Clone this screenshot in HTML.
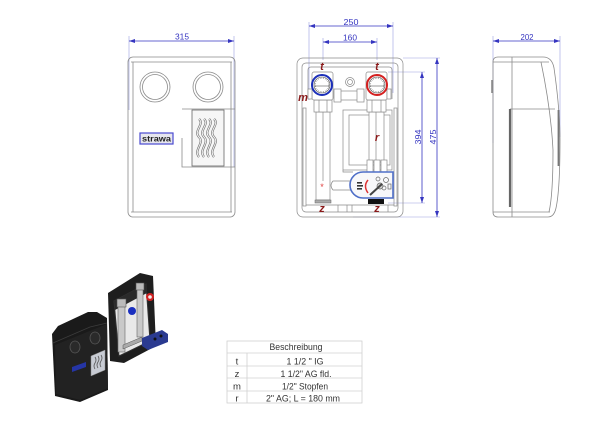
<!DOCTYPE html>
<html><head><meta charset="utf-8"><style>
html,body{margin:0;padding:0;background:#fff;}
svg{display:block;}
</style></head><body>
<svg width="600" height="425" viewBox="0 0 600 425" xmlns="http://www.w3.org/2000/svg" font-family="Liberation Sans, sans-serif">
<defs>
<marker id="a" viewBox="0 0 6 4" refX="6" refY="2" markerWidth="6" markerHeight="4" orient="auto-start-reverse" markerUnits="userSpaceOnUse"><path d="M0,0 L6,2 L0,4 z" fill="#3535c0"/></marker>
</defs>

<!-- ================= FRONT VIEW ================= -->
<g fill="none" stroke="#9aa0e0" stroke-width="0.6">
<line x1="129" y1="36" x2="129" y2="110"/>
<line x1="234" y1="36" x2="234" y2="167"/>
</g>
<line x1="129" y1="41" x2="234" y2="41" stroke="#3535c0" stroke-width="0.8" marker-start="url(#a)" marker-end="url(#a)"/>
<text x="182" y="39.5" font-size="8" fill="#3535c0" text-anchor="middle" textLength="14" lengthAdjust="spacingAndGlyphs">315</text>

<g fill="none" stroke="#8a8a8a" stroke-width="0.8">
<rect x="128" y="57" width="107" height="160" rx="5"/>
<line x1="131" y1="62" x2="232" y2="62"/>
<line x1="131" y1="212" x2="232" y2="212"/>
<line x1="133" y1="62" x2="133" y2="212"/>
<line x1="231" y1="62" x2="231" y2="212"/>
<circle cx="155" cy="87" r="15"/><circle cx="155" cy="87" r="12.5"/>
<circle cx="208" cy="87" r="15"/><circle cx="208" cy="87" r="12.5"/>
<polyline points="235,109 182,109"/>
<polyline points="182,138 182,167 235,167"/>
<rect x="192" y="110" width="32" height="56" stroke="#666" fill="#f6f6f6"/>
</g>
<g fill="none" stroke="#777" stroke-width="2.2">
<path d="M199,119 c6,5 -6,12 0,18 c6,6 -6,13 0,20"/>
<path d="M204,119 c6,5 -6,12 0,18 c6,6 -6,13 0,20"/>
<path d="M209,119 c6,5 -6,12 0,18 c6,6 -6,13 0,20"/>
<path d="M214,119 c6,5 -6,12 0,18 c6,6 -6,13 0,20"/>
</g>
<g fill="none" stroke="#f6f6f6" stroke-width="0.9">
<path d="M199,119 c6,5 -6,12 0,18 c6,6 -6,13 0,20"/>
<path d="M204,119 c6,5 -6,12 0,18 c6,6 -6,13 0,20"/>
<path d="M209,119 c6,5 -6,12 0,18 c6,6 -6,13 0,20"/>
<path d="M214,119 c6,5 -6,12 0,18 c6,6 -6,13 0,20"/>
</g>
<rect x="140" y="133" width="33" height="11" fill="#e6e6ee" stroke="#4a4ad0" stroke-width="1.2"/>
<text x="156.5" y="141.6" font-size="8" font-weight="bold" text-anchor="middle" fill="#222" textLength="29" lengthAdjust="spacingAndGlyphs">strawa</text>

<!-- ================= MIDDLE VIEW ================= -->
<g fill="none" stroke="#9aa0e0" stroke-width="0.6">
<line x1="309" y1="22" x2="309" y2="100"/>
<line x1="393" y1="22" x2="393" y2="93"/>
<line x1="323" y1="38" x2="323" y2="60"/>
<line x1="377" y1="38" x2="377" y2="60"/>
<line x1="403" y1="58" x2="440" y2="58"/>
<line x1="353" y1="217" x2="440" y2="217"/>
<line x1="388" y1="72" x2="425" y2="72"/>
<line x1="388" y1="203" x2="425" y2="203"/>
</g>
<g stroke="#3535c0" stroke-width="0.8">
<line x1="309" y1="26" x2="393" y2="26" marker-start="url(#a)" marker-end="url(#a)"/>
<line x1="323" y1="42" x2="377" y2="42" marker-start="url(#a)" marker-end="url(#a)"/>
<line x1="437" y1="58" x2="437" y2="217" marker-start="url(#a)" marker-end="url(#a)"/>
<line x1="422" y1="72" x2="422" y2="203" marker-start="url(#a)" marker-end="url(#a)"/>
</g>
<g font-size="8" fill="#3535c0" text-anchor="middle">
<text x="351" y="25" textLength="15" lengthAdjust="spacingAndGlyphs">250</text>
<text x="350" y="40.5" textLength="14" lengthAdjust="spacingAndGlyphs">160</text>
<text transform="translate(436,137) rotate(-90)" textLength="15" lengthAdjust="spacingAndGlyphs">475</text>
<text transform="translate(421,137) rotate(-90)" textLength="15" lengthAdjust="spacingAndGlyphs">394</text>
</g>

<g fill="none" stroke="#8a8a8a" stroke-width="0.7">
<rect x="297" y="58" width="106" height="159" rx="6"/>
<rect x="302" y="63" width="96" height="149" rx="4"/>
<rect x="303" y="108" width="3" height="98"/>
<rect x="394" y="108" width="3" height="98"/>
<path d="M308,99 L308,70 Q308,67 311,67 L389,67 Q392,67 392,70 L392,99"/>
<!-- r box -->
<rect x="343" y="110" width="49" height="60"/>
<rect x="349" y="115" width="41" height="50"/>
<polyline points="343,170 343,172 353,172"/>
<!-- bottom details -->
<line x1="306" y1="205" x2="394" y2="205"/>
<line x1="338" y1="205" x2="338" y2="212"/>
<line x1="347" y1="205" x2="347" y2="212"/>
<line x1="352" y1="205" x2="352" y2="212"/>
<line x1="388" y1="205" x2="388" y2="212"/>
</g>
<g fill="#fff" stroke="#8a8a8a" stroke-width="0.7">
<!-- left pipe -->
<rect x="316" y="112" width="14" height="88"/>
<line x1="323" y1="112" x2="323" y2="181"/>
<!-- right pipe -->
<rect x="369" y="112" width="15" height="50"/>
<line x1="376" y1="112" x2="376" y2="160"/>
<!-- nuts -->
<rect x="314" y="100" width="18" height="12"/>
<line x1="319" y1="100" x2="319" y2="112"/><line x1="327" y1="100" x2="327" y2="112"/>
<rect x="367" y="100" width="19" height="12"/>
<line x1="372" y1="100" x2="372" y2="112"/><line x1="381" y1="100" x2="381" y2="112"/>
<!-- gauge housings -->
<rect x="312" y="72" width="21" height="28" rx="2"/>
<rect x="366" y="72" width="21" height="28" rx="2"/>
<!-- plugs -->
<rect x="308" y="89" width="4" height="10"/>
<rect x="387" y="89" width="4" height="10"/>
<!-- middle valve -->
<rect x="334" y="91" width="30" height="9"/>
<rect x="334" y="89" width="7" height="13"/>
<rect x="357" y="89" width="7" height="13"/>
<circle cx="350" cy="82" r="4.5"/>
<circle cx="350" cy="82" r="2.5"/>
<!-- pump connectors -->
<rect x="367" y="160" width="6" height="12"/>
<rect x="374" y="160" width="6" height="12"/>
<rect x="381" y="160" width="6" height="12"/>
<!-- horizontal pipe -->
<path d="M354,181 L333,181 Q329,185.5 333,190 L354,190"/>
</g>
<!-- gauges -->
<circle cx="322" cy="85" r="10" fill="#fff" stroke="#1c2fb8" stroke-width="2"/>
<circle cx="377" cy="85" r="10" fill="#fff" stroke="#d42020" stroke-width="2"/>
<g fill="none" stroke="#555" stroke-width="1.2" stroke-dasharray="0.5 1.3">
<circle cx="322" cy="85" r="7"/><circle cx="377" cy="85" r="7"/>
</g>
<g stroke="#555" stroke-width="0.6">
<circle cx="322" cy="85" r="8" fill="none"/><circle cx="377" cy="85" r="8" fill="none"/>
<line x1="315" y1="86" x2="329" y2="86"/><line x1="370" y1="86" x2="384" y2="86"/>
</g>
<!-- pump head -->
<path d="M363,172 L393,172 L393,198 L363,198 A13,13 0 0 1 363,172 Z" fill="#f8f8fa" stroke="#4f6fc8" stroke-width="1.6"/>
<g fill="none" stroke="#666" stroke-width="0.7">
<circle cx="378" cy="179" r="2"/>
<circle cx="386" cy="180" r="2.5"/>
<circle cx="384" cy="188" r="2"/>
<rect x="388" y="184" width="3" height="5"/>
<circle cx="380" cy="186" r="3" fill="#ccc"/>
</g>
<line x1="370" y1="195" x2="382" y2="184" stroke="#444" stroke-width="2"/>
<path d="M368,180 Q363,186 368,193" fill="none" stroke="#dd3333" stroke-width="1.5"/>
<rect x="357" y="182" width="5" height="1.6" fill="#333"/>
<rect x="357" y="185" width="6" height="1.6" fill="#333"/>
<rect x="357" y="188" width="5" height="1.6" fill="#333"/>
<rect x="368" y="199" width="16" height="5" fill="#111"/>
<rect x="315" y="200" width="16" height="3" fill="#aaa" stroke="#666" stroke-width="0.5"/>
<text x="322" y="190" font-size="9" fill="#e04040" text-anchor="middle">*</text>

<!-- labels -->
<g fill="#8b1a1a" font-weight="bold" font-style="italic" font-size="11" text-anchor="middle">
<text x="322" y="70">t</text>
<text x="377" y="70">t</text>
<text x="303" y="101">m</text>
<text x="377" y="141">r</text>
<text x="322" y="212">z</text>
<text x="377" y="212">z</text>
</g>

<!-- ================= SIDE VIEW ================= -->
<g fill="none" stroke="#9aa0e0" stroke-width="0.6">
<line x1="493" y1="36" x2="493" y2="143"/>
<line x1="560" y1="36" x2="560" y2="137"/>
</g>
<line x1="493" y1="41" x2="560" y2="41" stroke="#3535c0" stroke-width="0.8" marker-start="url(#a)" marker-end="url(#a)"/>
<text x="527" y="40" font-size="8" fill="#3535c0" text-anchor="middle" textLength="13" lengthAdjust="spacingAndGlyphs">202</text>
<g fill="none" stroke="#8a8a8a" stroke-width="0.8">
<path d="M498,57 L543,57 Q552,57 554,68 Q560,110 560,140 Q560,190 556,208 Q554,217 548,217 L498,217 Q493,217 493,212 L493,62 Q493,57 498,57 Z"/>
<path d="M541,62 Q551,110 553,150 Q553,195 549,212"/>
<line x1="512" y1="57" x2="512" y2="217"/>
<line x1="493" y1="62" x2="549" y2="62"/>
<line x1="493" y1="212" x2="550" y2="212"/>
<line x1="510" y1="109" x2="555" y2="109"/>
</g>
<line x1="510" y1="109" x2="510" y2="207" stroke="#666" stroke-width="2.2"/>
<line x1="558.5" y1="110" x2="558.5" y2="166" stroke="#777" stroke-width="1.8"/>
<line x1="492" y1="80" x2="492" y2="93" stroke="#888" stroke-width="1.6"/>

<!-- ================= 3D IMAGE ================= -->
<!-- back frame -->
<polygon points="108,293 140,273 153,276 156,346 124,363 110,361" fill="#1e1e1e"/>
<polygon points="114,301 146,284 150,341 119,356" fill="#e9e9e9" stroke="#333" stroke-width="1"/>
<polygon points="114,301 146,284 147,293 115,310" fill="#2a2a2a"/>
<rect x="118" y="306" width="7" height="46" fill="#c9c9c9" stroke="#666" stroke-width="0.6"/>
<rect x="137" y="289" width="6" height="48" fill="#c9c9c9" stroke="#666" stroke-width="0.6"/>
<rect x="117" y="299" width="9" height="8" fill="#bbb" stroke="#555" stroke-width="0.6"/>
<rect x="136" y="283" width="8" height="7" fill="#bbb" stroke="#555" stroke-width="0.6"/>
<circle cx="132" cy="311" r="4" fill="#1a2fbf"/>
<circle cx="150" cy="297" r="4" fill="#d02020"/>
<circle cx="150" cy="297" r="1.8" fill="#eee"/>
<polygon points="123,345 142,337 142,341 123,349" fill="#aaa" stroke="#555" stroke-width="0.5"/>
<polygon points="142,338 162,330 168,334 168,342 148,350 142,346" fill="#2a3a90"/>
<circle cx="155" cy="339" r="1.5" fill="#111"/><circle cx="161" cy="336" r="1.5" fill="#111"/>
<!-- front cover -->
<polygon points="52,334 58,326 88,312 97,312 107,318 108,390 80,402 55,396" fill="#1a1a1a"/>
<polygon points="55,345 107,324 108,388 80,400 56,394" fill="#222"/>
<polyline points="53,343 90,327 107,323" fill="none" stroke="#3c3c3c" stroke-width="0.8"/>
<ellipse cx="75" cy="347" rx="5" ry="6" fill="#2a2a2a" stroke="#555" stroke-width="0.8"/>
<ellipse cx="95" cy="338" rx="5" ry="6" fill="#2a2a2a" stroke="#555" stroke-width="0.8"/>
<polygon points="72,367 86,362 86,367 72,372" fill="#2535a5"/>
<polygon points="91,356 105,350 105,370 91,376" fill="#c8ccd4" stroke="#888" stroke-width="0.5"/>
<path d="M95,357 q2,3 0,6 q-2,3 0,6 M98,356 q2,3 0,6 q-2,3 0,6 M101,355 q2,3 0,6 q-2,3 0,6" fill="none" stroke="#555" stroke-width="0.8"/>

<!-- ================= TABLE ================= -->
<g fill="none" stroke="#d0d0d0" stroke-width="0.8">
<rect x="227" y="341" width="135" height="62"/>
<line x1="227" y1="353" x2="362" y2="353"/>
<line x1="227" y1="366" x2="362" y2="366"/>
<line x1="227" y1="378" x2="362" y2="378"/>
<line x1="227" y1="391" x2="362" y2="391"/>
<line x1="247" y1="353" x2="247" y2="403"/>
</g>
<g font-size="9.5" fill="#333" text-anchor="middle">
<text x="296" y="350" textLength="53" lengthAdjust="spacingAndGlyphs">Beschreibung</text>
<text x="237" y="364.5">t</text>
<text x="237" y="377">z</text>
<text x="237" y="389.5">m</text>
<text x="237" y="401.5">r</text>
<text x="305" y="364.5" textLength="37" lengthAdjust="spacingAndGlyphs">1 1/2 " IG</text>
<text x="306" y="377" textLength="51" lengthAdjust="spacingAndGlyphs">1 1/2" AG fld.</text>
<text x="305" y="389.5" textLength="46" lengthAdjust="spacingAndGlyphs">1/2" Stopfen</text>
<text x="303" y="401.5" textLength="74" lengthAdjust="spacingAndGlyphs">2" AG; L = 180 mm</text>
</g>
</svg>
</body></html>
